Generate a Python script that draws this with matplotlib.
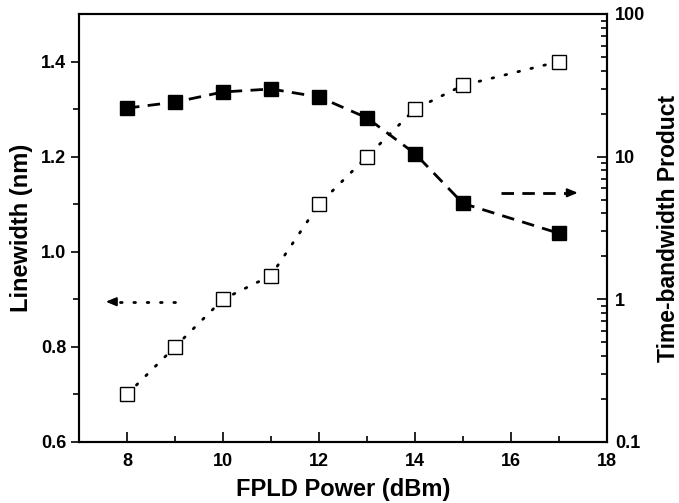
import numpy as np
import matplotlib.pyplot as plt

plt.rcParams['font.family'] = ['Liberation Sans', 'DejaVu Sans']

# FPLD power (dBm)
power = [8, 9, 10, 11, 12, 13, 14, 15, 17]
# linewidth (nm), open squares, left axis
linewidth = [0.70, 0.80, 0.90, 0.95, 1.10, 1.20, 1.30, 1.35, 1.40]
# time-bandwidth product, filled squares, right log axis
tbp = [21.9, 24.1, 28.4, 29.8, 26.2, 18.7, 10.5, 4.7, 2.9]

fig = plt.figure(figsize=(6.79, 5.03), dpi=100)
ax = fig.add_axes([0.1163, 0.1213, 0.7777, 0.8509])
ax2 = ax.twinx()

ax.plot(power, linewidth, ls=(0, (0.6, 4.2)), lw=2, color='k', dash_capstyle='round',
        marker='s', ms=10, mfc='white', mec='k', mew=1.0, zorder=3)
ax2.plot(power, tbp, ls=(0, (4.5, 3)), lw=2, color='k',
         marker='s', ms=10.5, mfc='k', mec='k', zorder=3)

ax.set_xlim(7, 18)
ax.set_ylim(0.6, 1.5)
ax2.set_yscale('log')
ax2.set_ylim(0.1, 100)

ax.set_xticks([8, 10, 12, 14, 16, 18])
ax.set_xticks([9, 11, 13, 15, 17], minor=True)
ax.set_yticks([0.6, 0.8, 1.0, 1.2, 1.4])
ax.set_yticks([0.7, 0.9, 1.1, 1.3], minor=True)
ax.set_yticklabels(['0.6', '0.8', '1.0', '1.2', '1.4'])
ax2.set_yticks([0.1, 1, 10, 100])
ax2.set_yticklabels(['0.1', '1', '10', '100'])

ax.tick_params(axis='x', which='major', direction='in', length=7, width=1.2, top=False, pad=8)
ax.tick_params(axis='x', which='minor', direction='in', length=4, width=1.2, top=False)
ax.tick_params(axis='y', which='major', direction='out', length=6, width=1.2, right=False, pad=3)
ax.tick_params(axis='y', which='minor', direction='out', length=4, width=1.2, right=False)
ax2.tick_params(axis='y', which='major', direction='in', length=7, width=1.2, pad=6)
ax2.tick_params(axis='y', which='minor', direction='in', length=4, width=1.2)
for a in (ax, ax2):
    for lab in a.get_xticklabels() + a.get_yticklabels():
        lab.set_fontweight('bold')
        lab.set_fontsize(13)
    for s in a.spines.values():
        s.set_linewidth(1.5)

ax.set_xlabel('FPLD Power (dBm)', fontsize=17, fontweight='bold', labelpad=6)
ax.set_ylabel('Linewidth (nm)', fontsize=17, fontweight='bold', labelpad=6)
ax2.set_ylabel('Time-bandwidth Product', fontsize=16.5, fontweight='bold', labelpad=8)

# axis indicator arrows
left_arrow = ((9.0, 0.895), (7.5, 0.895))
right_arrow = ((15.8, 1.124), (17.45, 1.124))

(x0, y0), (x1, y1) = left_arrow
ax.plot([x0, x1 + 0.2], [y0, y1], ls=(0, (0.6, 4.2)), lw=2, color='k', dash_capstyle='round')
ax.annotate('', xy=(x1, y1), xytext=(x1 + 0.25, y1),
            arrowprops=dict(arrowstyle='-|>,head_length=0.6,head_width=0.25', color='k', lw=1.5))
(x0, y0), (x1, y1) = right_arrow
ax.plot([x0, x1 - 0.2], [y0, y1], ls=(0, (4.5, 3)), lw=2, color='k')
ax.annotate('', xy=(x1, y1), xytext=(x1 - 0.25, y1),
            arrowprops=dict(arrowstyle='-|>,head_length=0.6,head_width=0.25', color='k', lw=1.5))

fig.savefig('out.png', dpi=100)
